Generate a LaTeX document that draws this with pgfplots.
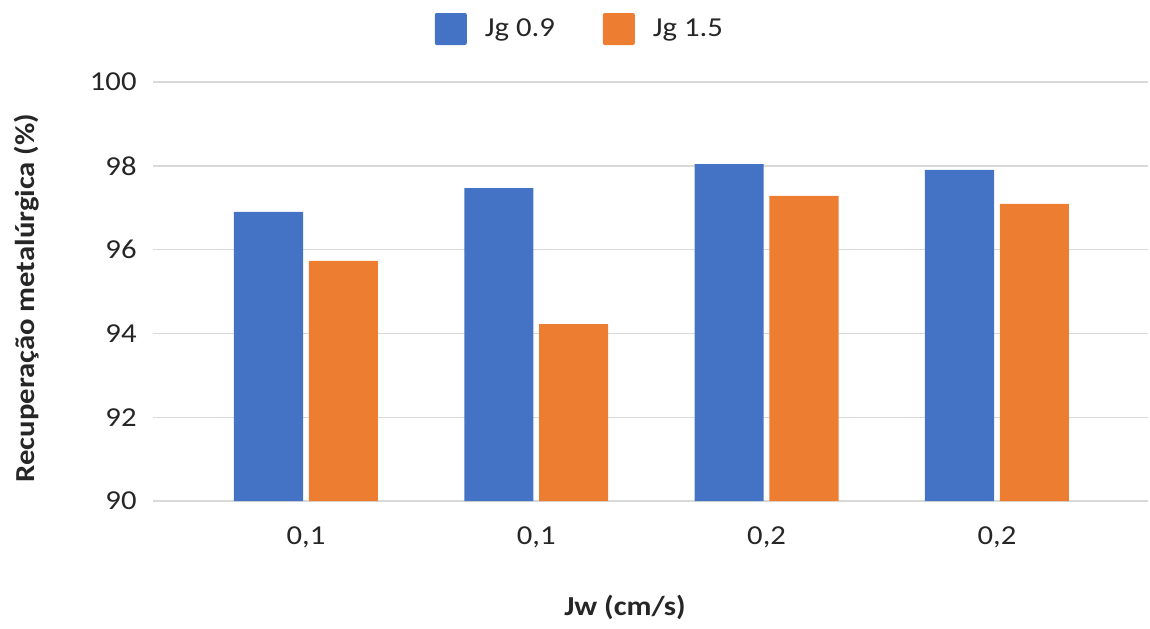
\documentclass[border=0pt]{standalone}
\usepackage{pgfplots}
\pgfplotsset{compat=1.18}
\usepackage{fontspec}
\setmainfont{Carlito}[FakeStretch=1.12]
\definecolor{cblue}{HTML}{4472C4}
\definecolor{corange}{HTML}{ED7D31}
\definecolor{cgrid}{HTML}{D9D9D9}
\definecolor{ctext}{HTML}{262626}
\newcommand{\tfont}{\fontsize{13.7}{16}\selectfont}
\begin{document}
\begin{tikzpicture}
\path[use as bounding box] (0,0) rectangle (575pt,314pt);
\begin{axis}[
  at={(76.5pt,63.5pt)}, anchor=south west,
  width=497.5pt, height=209.5pt, scale only axis,
  xmin=-0.664, xmax=3.656, ymin=90, ymax=100,
  ytick={90,92,94,96,98,100},
  xtick={0,1,2,3},
  xticklabels={{0,1},{0,1},{0,2},{0,2}},
  /pgf/number format/assume math mode=true,
  major tick length=0pt,
  axis line style={draw=none},
  ymajorgrids,
  major grid style={cgrid, line width=0.7pt},
  ticklabel style={font=\tfont, text=ctext},
  yticklabel style={inner sep=0pt, xshift=-8pt},
  xticklabel style={anchor=center, yshift=-18pt},
  ylabel={\textbf{Recuperação metalúrgica (\%)}},
  xlabel={\textbf{Jw (cm/s)}},
  label style={font=\tfont, text=ctext},
  ylabel style={at={(axis description cs:-0.1266,0.4845)}, anchor=center},
  xlabel style={at={(axis description cs:0.4744,-0.255)}, anchor=center},
  legend columns=2,
  legend style={at={(axis description cs:0.430,1.1265)}, anchor=center,
    draw=none, fill=none, font=\tfont, text=ctext,
    /tikz/every odd column/.append style={column sep=7pt},
    /tikz/every even column/.append style={column sep=22pt}},
  ybar, bar width=0.3,
  clip=true,
]
\addplot[draw=none, fill=cblue, bar shift=-0.1625,
  legend image code/.code={\fill[cblue, rounded corners=1pt] (0pt,-8pt) rectangle (16pt,8pt);}]
  coordinates {(0,96.9) (1,97.47) (2,98.04) (3,97.9)};
\addplot[draw=none, fill=corange, bar shift=0.1625,
  legend image code/.code={\fill[corange, rounded corners=1pt] (0pt,-8pt) rectangle (16pt,8pt);}]
  coordinates {(0,95.73) (1,94.22) (2,97.28) (3,97.09)};
\legend{Jg 0.9, Jg 1.5}
\end{axis}
\end{tikzpicture}
\end{document}
